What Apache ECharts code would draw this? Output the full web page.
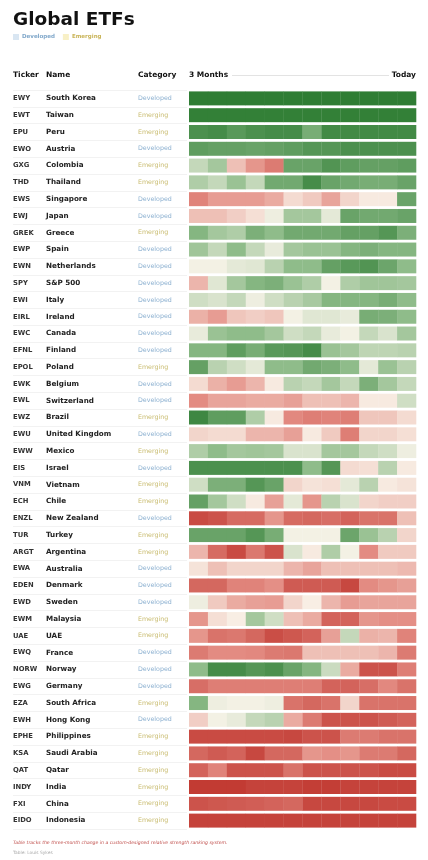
<!DOCTYPE html>
<html>
<head>
<meta charset="utf-8">
<script src="https://cdn.jsdelivr.net/npm/echarts@6/dist/echarts.min.js"></script>
<style>
  html, body { margin: 0; padding: 0; background: #fff; }
  #chart { width: 428px; height: 860px; }
</style>
</head>
<body>
<div id="chart"></div>
<script>
  // rows, top to bottom
  var tickers = ['EWY', 'EWT', 'EPU', 'EWO', 'GXG', 'THD', 'EWS', 'EWJ', 'GREK', 'EWP', 'EWN', 'SPY', 'EWI', 'EIRL', 'EWC',
    'EFNL', 'EPOL', 'EWK', 'EWL', 'EWZ', 'EWU', 'EWW', 'EIS', 'VNM', 'ECH', 'ENZL', 'TUR', 'ARGT', 'EWA', 'EDEN', 'EWD',
    'EWM', 'UAE', 'EWQ', 'NORW', 'EWG', 'EZA', 'EWH', 'EPHE', 'KSA', 'QAT', 'INDY', 'FXI', 'EIDO'];
  var names = ['South Korea', 'Taiwan', 'Peru', 'Austria', 'Colombia', 'Thailand', 'Singapore', 'Japan', 'Greece', 'Spain',
    'Netherlands', 'S&P 500', 'Italy', 'Ireland', 'Canada', 'Finland', 'Poland', 'Belgium', 'Switzerland', 'Brazil',
    'United Kingdom', 'Mexico', 'Israel', 'Vietnam', 'Chile', 'New Zealand', 'Turkey', 'Argentina', 'Australia', 'Denmark',
    'Sweden', 'Malaysia', 'UAE', 'France', 'Norway', 'Germany', 'South Africa', 'Hong Kong', 'Philippines', 'Saudi Arabia',
    'Qatar', 'India', 'China', 'Indonesia'];
  var D = 'Developed', E = 'Emerging';
  var categories = [D, E, E, D, E, E, D, D, E, D, D, D, D, D, D, D, E, D, D, E, D, E, D, E, E, D, E, E, D, D, D,
    E, E, D, D, D, E, D, E, E, E, E, E, E];
  var weeks = ['W1', 'W2', 'W3', 'W4', 'W5', 'W6', 'W7', 'W8', 'W9', 'W10', 'W11', 'W12'];

  // relative strength change, -100 (weak) .. 100 (strong), 12 weeks per row
  var scores = [
    [100, 100, 100, 100, 100, 100, 100, 100, 100, 100, 100, 100],
    [98, 98, 98, 98, 98, 98, 98, 98, 98, 98, 98, 98],
    [85, 88, 78, 85, 88, 88, 62, 90, 90, 90, 90, 90],
    [75, 72, 72, 70, 72, 75, 80, 80, 85, 85, 85, 85],
    [25, 40, -25, -45, -60, 70, 70, 82, 75, 72, 72, 75],
    [35, 25, 45, 25, 65, 65, 88, 70, 65, 62, 62, 70],
    [-55, -42, -42, -42, -35, -12, -20, -38, -15, -5, -5, 70],
    [-25, -25, -18, -10, 5, 40, 40, 10, 70, 65, 65, 70],
    [55, 40, 35, 60, 50, 65, 65, 65, 72, 72, 80, 60],
    [42, 25, 50, 25, 8, 40, 45, 45, 55, 60, 55, 55],
    [3, 3, 10, 12, 30, 50, 50, 72, 78, 82, 68, 50],
    [-30, 12, 40, 55, 60, 45, 35, 3, 35, 42, 42, 40],
    [20, 15, 25, 5, 20, 30, 38, 55, 55, 55, 62, 50],
    [-32, -42, -22, -18, -22, 3, 12, 12, 8, 62, 60, 50],
    [8, 45, 50, 50, 40, 20, 25, 8, 3, 25, 15, 40],
    [55, 55, 75, 62, 78, 80, 88, 45, 40, 28, 28, 30],
    [72, 30, 20, 10, 50, 50, 65, 60, 50, 10, 45, 30],
    [-12, -32, -42, -30, -5, 30, 25, 40, 25, 60, 40, 25],
    [-50, -38, -38, -35, -35, -40, -25, -25, -30, -5, -5, 20],
    [92, 75, 75, 35, -5, -52, -58, -55, -58, -22, -22, -12],
    [-15, -12, -12, -30, -30, -40, -5, -20, -58, -15, -15, -10],
    [35, 50, 40, 42, 40, 15, 15, 40, 40, 25, 20, 5],
    [85, 85, 85, 85, 85, 85, 50, 80, -12, -10, 30, -5],
    [20, 60, 60, 80, 70, -15, -8, -10, 10, 30, -5, -8],
    [72, 40, 20, -5, -40, 10, -45, 30, 15, -15, -18, -18],
    [-90, -85, -70, -70, -45, -70, -72, -68, -75, -65, -65, -25],
    [70, 70, 70, 80, 62, 3, 3, 3, 68, 45, 30, -15],
    [-30, -70, -90, -62, -85, 15, -5, 35, 3, -50, -20, -20],
    [-8, -25, -15, -15, -15, -30, -38, -25, -25, -25, -25, -28],
    [-72, -72, -55, -55, -48, -80, -80, -80, -92, -50, -45, -40],
    [5, -20, -35, -40, -42, -15, -3, -30, -42, -38, -38, -38],
    [-45, -10, -3, 40, 20, -25, -35, -75, -75, -45, -48, -48],
    [-45, -65, -62, -72, -88, -82, -75, -40, 25, -32, -30, -55],
    [-60, -50, -50, -52, -60, -62, -25, -25, -25, -25, -30, -60],
    [50, 88, 88, 80, 85, 70, 55, 22, -35, -85, -85, -58],
    [-68, -58, -58, -58, -58, -58, -58, -75, -75, -68, -52, -65],
    [55, 5, 3, 3, 5, -65, -72, -65, -15, -65, -65, -65],
    [-18, 3, 8, 25, 30, -35, -60, -85, -85, -85, -80, -75],
    [-90, -90, -90, -90, -90, -92, -85, -85, -60, -60, -65, -65],
    [-72, -80, -75, -92, -72, -72, -45, -48, -45, -60, -60, -72],
    [-75, -55, -85, -85, -85, -65, -85, -85, -85, -85, -90, -90],
    [-100, -100, -100, -95, -95, -95, -98, -98, -95, -95, -95, -95],
    [-85, -82, -80, -78, -75, -72, -92, -92, -92, -92, -90, -90],
    [-95, -95, -95, -95, -95, -95, -95, -95, -95, -95, -95, -95]
  ];

  var cells = [];
  scores.forEach(function (row, r) {
    row.forEach(function (v, c) { cells.push([c, r, v]); });
  });

  var FONT = 'DejaVu Sans';
  var chart = echarts.init(document.getElementById('chart'));

  chart.setOption({
    animation: false,
    textStyle: { fontFamily: FONT },
    title: [{
      text: 'Global ETFs', left: 8, top: 6,
      textStyle: { fontSize: 18.5, fontWeight: 'bold', color: '#111', fontFamily: FONT }
    }, {
      text: 'Table tracks the three-month change in a custom-designed relative strength ranking system.',
      left: 8, top: 835,
      textStyle: { fontSize: 4.6, fontStyle: 'italic', fontWeight: 'normal', color: '#c0504d', fontFamily: FONT }
    }, {
      text: 'Table: Louis Sykes', left: 8, top: 846,
      textStyle: { fontSize: 4.4, fontWeight: 'normal', color: '#aaa', fontFamily: FONT }
    }],
    legend: {
      left: 8, top: 29, itemWidth: 6, itemHeight: 6, itemGap: 8, icon: 'rect',
      data: [
        { name: D, textStyle: { color: '#7ea6c9' } },
        { name: E, textStyle: { color: '#c9b458' } }
      ],
      textStyle: { fontSize: 5.5, fontWeight: 'bold', padding: [0, 0, 0, -2] },
      selectedMode: false
    },
    visualMap: {
      show: false, type: 'continuous', min: -100, max: 100, dimension: 2, seriesIndex: 0,
      inRange: { color: ['#c23b33', '#e38b82', '#f9f4ea', '#8fbc8a', '#2f7d34'] }
    },
    graphic: [
      { type: 'text', left: 13, top: 71, style: { text: 'Ticker', font: 'bold 7.5px "DejaVu Sans"', fill: '#111' } },
      { type: 'text', left: 46, top: 71, style: { text: 'Name', font: 'bold 7.5px "DejaVu Sans"', fill: '#111' } },
      { type: 'text', left: 138, top: 71, style: { text: 'Category', font: 'bold 7.5px "DejaVu Sans"', fill: '#111' } },
      { type: 'text', left: 189, top: 71, style: { text: '3 Months', font: 'bold 7.5px "DejaVu Sans"', fill: '#111' } },
      { type: 'text', right: 12, top: 71, style: { text: 'Today', font: 'bold 7.5px "DejaVu Sans"', fill: '#111' } },
      { type: 'line', shape: { x1: 232, y1: 75.5, x2: 389, y2: 75.5 }, style: { stroke: '#e3e3e3', lineWidth: 1 } }
    ],
    grid: [
      { left: 189, right: 12, top: 90, height: 739 },
      { left: 13, width: 174, top: 90, height: 739 }
    ],
    xAxis: [
      { type: 'category', data: weeks, gridIndex: 0, show: false },
      { type: 'value', gridIndex: 1, show: false }
    ],
    yAxis: [{
      type: 'category', data: tickers, gridIndex: 0, inverse: true, show: false
    }, {
      type: 'category', data: tickers, gridIndex: 1, inverse: true,
      axisLine: { show: false }, axisTick: { show: false },
      splitLine: { show: true, lineStyle: { color: '#efefef', width: 0.8 } },
      axisLabel: {
        inside: true, margin: 0,
        formatter: function (val, i) {
          var k = categories[i] === D ? 'd' : 'e';
          return '{t|' + val + '}{n|' + names[i] + '}{' + k + '|' + categories[i] + '}';
        },
        rich: {
          t: { width: 33, fontSize: 6.8, fontWeight: 'bold', color: '#333', fontFamily: FONT },
          n: { width: 92, fontSize: 7.2, fontWeight: 'bold', color: '#222', fontFamily: FONT },
          d: { fontSize: 6.3, color: '#8cb0d0', fontFamily: FONT },
          e: { fontSize: 6.3, color: '#c8bb6e', fontFamily: FONT }
        }
      }
    }],
    series: [{
      type: 'custom',
      xAxisIndex: 0, yAxisIndex: 0,
      data: cells,
      renderItem: function (params, api) {
        var p = api.coord([api.value(0), api.value(1)]);
        var s = api.size([1, 1]);
        return {
          type: 'rect',
          shape: { x: p[0] - s[0] / 2, y: p[1] - s[1] / 2 + 1.4, width: s[0] + 0.3, height: s[1] - 2.8 },
          style: { fill: api.visual('color') }
        };
      }
    }, {
      name: D, type: 'scatter', data: [], itemStyle: { color: '#cfe0ef' }
    }, {
      name: E, type: 'scatter', data: [], itemStyle: { color: '#f6ecb8' }
    }]
  });
</script>
</body>
</html>
